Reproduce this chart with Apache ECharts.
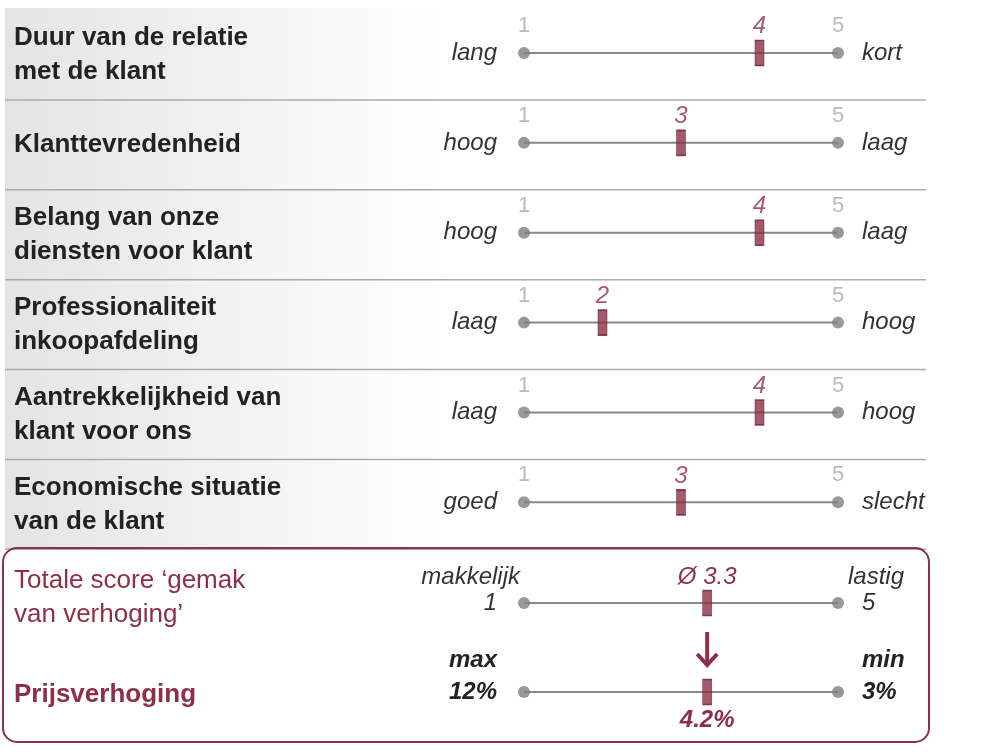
<!DOCTYPE html>
<html><head><meta charset="utf-8">
<script src="https://cdn.jsdelivr.net/npm/echarts@6/dist/echarts.min.js"></script>
<style>html,body{margin:0;padding:0;background:#fff}#c{width:983px;height:754px}</style>
</head><body><div id="c"></div>
<script>
const criteria = ["Duur van de relatie\nmet de klant","Klanttevredenheid","Belang van onze\ndiensten voor klant","Professionaliteit\ninkoopafdeling","Aantrekkelijkheid van\nklant voor ons","Economische situatie\nvan de klant"];
const lowLabels = ["lang","hoog","hoog","laag","laag","goed"];
const highLabels = ["kort","laag","laag","hoog","hoog","slecht"];
const scores = [4,3,4,2,4,3];
const rowPos = [0,1,2,3,4,5,6.12,7.11];
const totalScore = 3.3;
const priceIncrease = "4.2%";
const priceMax = "12%", priceMin = "3%";
const scaleMin = 1, scaleMax = 5;

(function(){
const chart = echarts.init(document.getElementById('c'));
const F = '"Liberation Sans", Arial, sans-serif';
const maroon = '#8e2f47';
const avg = scores.reduce((a,b)=>a+b,0)/scores.length;

const lineData = [], dotData = [], markData = [];
for (let i=0;i<rowPos.length;i++){
  lineData.push([scaleMin,rowPos[i]],[scaleMax,rowPos[i]],[null,null]);
  dotData.push({value:[scaleMin,rowPos[i]],label:{show:i<6,formatter:String(scaleMin)}});
  dotData.push({value:[scaleMax,rowPos[i]],label:{show:i<6,formatter:String(scaleMax)}});
}
scores.forEach((s,i)=>markData.push({value:[s,rowPos[i]],label:{show:true,formatter:String(s)}}));
markData.push({value:[avg,rowPos[6]],label:{show:false}});
markData.push({value:[avg,rowPos[7]],label:{show:false}});

const gTop=53, gBot=692, hgt=gBot-gTop;
const yOf = r => gTop + r/rowPos[7]*hgt;
const xOf = v => 524 + (v-1)/4*314;

const graphic = [];
graphic.push({type:'rect',z:-10,shape:{x:5,y:8,width:440,height:540},style:{fill:new echarts.graphic.LinearGradient(0,0,1,0,[{offset:0,color:'#e4e4e4'},{offset:0.65,color:'#f6f6f6'},{offset:1,color:'#ffffff'}])}});
for (let i=0;i<6;i++){
  const y=yOf(rowPos[i]);
  graphic.push({type:'text',x:14,y:y+2,style:{text:criteria[i],font:'bold 26px '+F,fill:'#222',verticalAlign:'middle',lineHeight:34}});
  graphic.push({type:'text',x:497,y:y,style:{text:lowLabels[i],font:'italic 24px '+F,fill:'#333',align:'right',verticalAlign:'middle'}});
  graphic.push({type:'text',x:862,y:y,style:{text:highLabels[i],font:'italic 24px '+F,fill:'#333',align:'left',verticalAlign:'middle'}});
  graphic.push({type:'line',shape:{x1:5,y1:y+47,x2:926,y2:y+47},style:{stroke:'#aaa',lineWidth:1.5}});
}
graphic.push({type:'rect',shape:{x:3,y:548,width:926,height:194,r:14},style:{fill:'none',stroke:maroon,lineWidth:2}});
const y6=yOf(rowPos[6]), y7=yOf(rowPos[7]);
graphic.push({type:'text',x:14,y:y6-5,style:{text:"Totale score ‘gemak\nvan verhoging’",font:'26px '+F,fill:maroon,verticalAlign:'middle',lineHeight:34}});
graphic.push({type:'text',x:14,y:y7+3,style:{text:"Prijsverhoging",font:'bold 26px '+F,fill:maroon,verticalAlign:'middle'}});
graphic.push({type:'text',x:520,y:y6-26,style:{text:"makkelijk",font:'italic 24px '+F,fill:'#333',align:'right',verticalAlign:'middle'}});
graphic.push({type:'text',x:497,y:y6,style:{text:"1",font:'italic 24px '+F,fill:'#333',align:'right',verticalAlign:'middle'}});
graphic.push({type:'text',x:848,y:y6-26,style:{text:"lastig",font:'italic 24px '+F,fill:'#333',align:'left',verticalAlign:'middle'}});
graphic.push({type:'text',x:862,y:y6,style:{text:"5",font:'italic 24px '+F,fill:'#333',align:'left',verticalAlign:'middle'}});
graphic.push({type:'text',x:xOf(avg),y:y6-26,style:{text:"Ø "+totalScore,font:'italic 24px '+F,fill:maroon,align:'center',verticalAlign:'middle'}});
graphic.push({type:'text',x:497,y:y7-32,style:{text:"max",font:'bold italic 24px '+F,fill:'#222',align:'right',verticalAlign:'middle'}});
graphic.push({type:'text',x:497,y:y7,style:{text:priceMax,font:'bold italic 24px '+F,fill:'#222',align:'right',verticalAlign:'middle'}});
graphic.push({type:'text',x:862,y:y7-32,style:{text:"min",font:'bold italic 24px '+F,fill:'#222',align:'left',verticalAlign:'middle'}});
graphic.push({type:'text',x:862,y:y7,style:{text:priceMin,font:'bold italic 24px '+F,fill:'#222',align:'left',verticalAlign:'middle'}});
graphic.push({type:'text',x:xOf(avg),y:y7+28,style:{text:priceIncrease,font:'bold italic 24px '+F,fill:maroon,align:'center',verticalAlign:'middle'}});
const ax=xOf(avg);
graphic.push({type:'polyline',shape:{points:[[ax,632],[ax,664]]},style:{stroke:maroon,lineWidth:4}});
graphic.push({type:'polyline',shape:{points:[[ax-10,654],[ax,665],[ax+10,654]]},style:{stroke:maroon,lineWidth:4,fill:'none'}});

chart.setOption({
  animation:false,
  grid:{left:524,width:314,top:gTop,height:hgt},
  xAxis:{type:'value',min:scaleMin,max:scaleMax,show:false},
  yAxis:{type:'value',min:0,max:rowPos[7],inverse:true,show:false},
  graphic:graphic,
  series:[
    {type:'line',data:lineData,symbol:'none',connectNulls:false,lineStyle:{color:'#888',width:2},z:2},
    {type:'scatter',data:dotData,symbol:'circle',symbolSize:12,itemStyle:{color:'#808080'},z:3,
      label:{position:'top',distance:10,color:'#aaa',fontSize:22,fontFamily:F}},
    {type:'scatter',data:markData,symbol:'rect',symbolSize:[9,25],itemStyle:{color:maroon,borderColor:'#6a1f33',borderWidth:1},z:4,
      label:{position:'top',distance:1,color:maroon,fontSize:24,fontStyle:'italic',fontFamily:F}}
  ]
});
})();
</script></body></html>
